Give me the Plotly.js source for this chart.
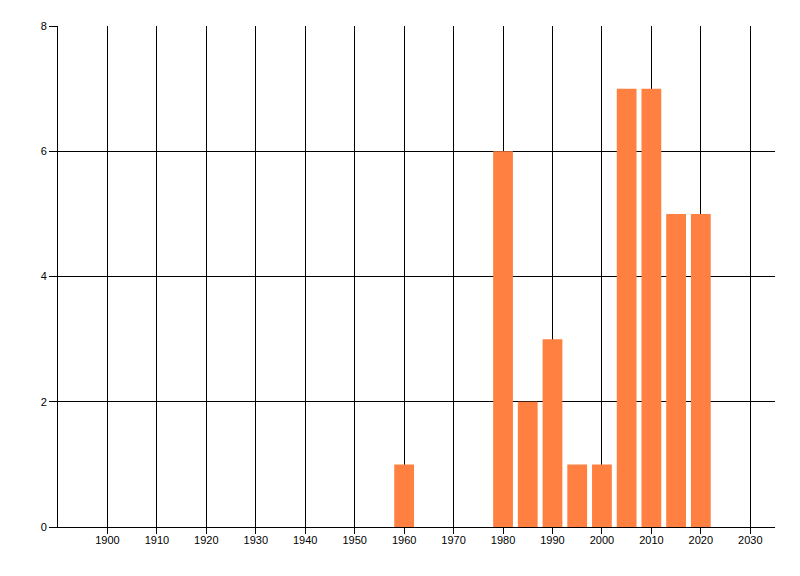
<!DOCTYPE html>
<html>
<head>
<meta charset="utf-8">
<script src="https://cdn.plot.ly/plotly-3.0.1.min.js"></script>
<style>
    html, body { margin: 0; padding: 0; background: #fff; }
    #chart { width: 800px; height: 576px; }
</style>
</head>
<body>
<div id="chart"></div>
<script>
// Years (bar centres)
var years  = [1960, 1980, 1985, 1990, 1995, 2000, 2005, 2010, 2015, 2020];

// Counts per year
var counts = [1, 6, 2, 3, 1, 1, 7, 7, 5, 5];

// Tick labels on x axis
var xTicks = [1900, 1910, 1920, 1930, 1940, 1950, 1960, 1970, 1980, 1990, 2000, 2010, 2020, 2030];

// Tick labels on y axis
var yTicks = [0, 2, 4, 6, 8];


var data = [{
    x: years,
    y: counts,
    type: 'bar',
    width: 4,
    marker: {color: 'rgb(255,128,64)', line: {width: 0}},
    hoverinfo: 'x+y'
}];

var layout = {
    width: 800,
    height: 576,
    margin: {l: 58, r: 25, t: 26, b: 49},
    paper_bgcolor: '#ffffff',
    plot_bgcolor: '#ffffff',
    font: {family: 'Liberation Sans, Arial, sans-serif', size: 11, color: '#000'},
    showlegend: false,
    xaxis: {
        range: [1890, 2035],
        tickvals: xTicks,
        ticktext: xTicks.map(String),
        showgrid: true,
        gridcolor: '#000',
        gridwidth: 1,
        zeroline: false,
        showline: true,
        linecolor: '#000',
        linewidth: 1,
        ticks: 'outside',
        ticklen: 6,
        tickcolor: '#000',
        ticklabelstandoff: -3,
        tickfont: {size: 11, color: '#000'}
    },
    yaxis: {
        range: [0, 8],
        tickvals: yTicks,
        ticktext: yTicks.map(String),
        showgrid: true,
        gridcolor: '#000',
        gridwidth: 1,
        zeroline: false,
        showline: true,
        linecolor: '#000',
        linewidth: 1,
        ticks: 'outside',
        ticklen: 8,
        tickcolor: '#000',
        tickfont: {size: 11, color: '#000'}
    }
};

Plotly.newPlot('chart', data, layout, {displayModeBar: false, staticPlot: true});
</script>
</body>
</html>
